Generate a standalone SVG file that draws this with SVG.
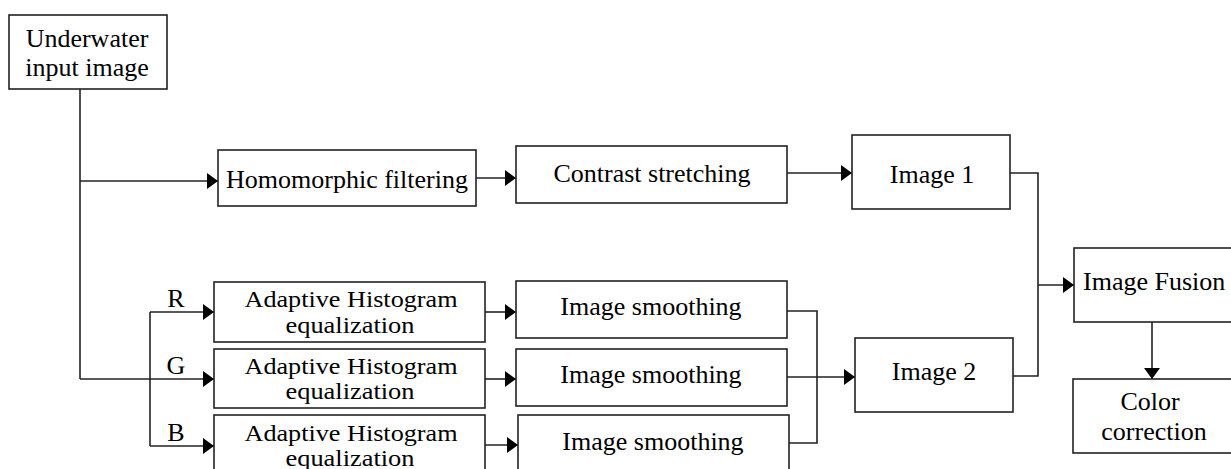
<svg xmlns="http://www.w3.org/2000/svg" width="1231" height="469" viewBox="0 0 1231 469">
<style>
.box{fill:#fff;stroke:#222;stroke-width:1.6}
.ln{fill:none;stroke:#222;stroke-width:1.6}
text{font-family:"Liberation Serif","Times New Roman",serif;font-size:26px;fill:#000;text-anchor:middle}
text.sm{font-size:24px}
</style>
<defs>
<marker id="ah" viewBox="0 0 11 16" refX="11" refY="8" markerWidth="11" markerHeight="16" markerUnits="userSpaceOnUse" orient="auto">
<path d="M0,0 L11,8 L0,16 Z" fill="#000"/>
</marker>
</defs>
<rect width="1231" height="469" fill="#fff"/>
<g id="connectors">
<path class="ln" d="M80,89 V379"/>
<path class="ln" d="M80,181 H218" marker-end="url(#ah)"/>
<path class="ln" d="M476,178 H516" marker-end="url(#ah)"/>
<path class="ln" d="M787,173 H852" marker-end="url(#ah)"/>
<path class="ln" d="M1010,173 H1038 V376 H1013"/>
<path class="ln" d="M1038,285 H1074" marker-end="url(#ah)"/>
<path class="ln" d="M1152,322 V379" marker-end="url(#ah)"/>
<path class="ln" d="M80,379 H214" marker-end="url(#ah)"/>
<path class="ln" d="M150,446 V312"/>
<path class="ln" d="M150,312 H214" marker-end="url(#ah)"/>
<path class="ln" d="M150,446 H214" marker-end="url(#ah)"/>
<path class="ln" d="M485,312 H516" marker-end="url(#ah)"/>
<path class="ln" d="M485,379 H516" marker-end="url(#ah)"/>
<path class="ln" d="M485,445 H518" marker-end="url(#ah)"/>
<path class="ln" d="M787,311 H817 V443 H789"/>
<path class="ln" d="M787,377 H855" marker-end="url(#ah)"/>
</g>
<g id="labels">
<text x="176" y="307">R</text>
<text x="176" y="374">G</text>
<text x="176" y="441">B</text>
</g>
<g id="input"><rect class="box" x="9" y="15" width="158" height="74"/><text x="87" y="47">Underwater</text><text x="87" y="76">input image</text></g>
<g id="homomorphic"><rect class="box" x="218" y="150" width="258" height="56"/><text x="347" y="188">Homomorphic filtering</text></g>
<g id="contrast"><rect class="box" x="516" y="146" width="271" height="57"/><text x="652" y="182">Contrast stretching</text></g>
<g id="image1"><rect class="box" x="852" y="135" width="158" height="74"/><text x="932" y="183">Image 1</text></g>
<g id="ahe-r"><rect class="box" x="214" y="282" width="271" height="60"/><text class="sm" x="351" y="307" textLength="213" lengthAdjust="spacingAndGlyphs">Adaptive Histogram</text><text class="sm" x="350" y="333" textLength="129" lengthAdjust="spacingAndGlyphs">equalization</text></g>
<g id="ahe-g"><rect class="box" x="214" y="349" width="271" height="59"/><text class="sm" x="351" y="374" textLength="213" lengthAdjust="spacingAndGlyphs">Adaptive Histogram</text><text class="sm" x="350" y="399" textLength="129" lengthAdjust="spacingAndGlyphs">equalization</text></g>
<g id="ahe-b"><rect class="box" x="214" y="415" width="271" height="60"/><text class="sm" x="351" y="441" textLength="213" lengthAdjust="spacingAndGlyphs">Adaptive Histogram</text><text class="sm" x="350" y="466" textLength="129" lengthAdjust="spacingAndGlyphs">equalization</text></g>
<g id="smooth-r"><rect class="box" x="516" y="281" width="271" height="57"/><text x="651" y="315">Image smoothing</text></g>
<g id="smooth-g"><rect class="box" x="516" y="349" width="271" height="57"/><text x="651" y="383">Image smoothing</text></g>
<g id="smooth-b"><rect class="box" x="518" y="415" width="271" height="60"/><text x="653" y="450">Image smoothing</text></g>
<g id="image2"><rect class="box" x="855" y="338" width="158" height="74"/><text x="934" y="380">Image 2</text></g>
<g id="fusion"><rect class="box" x="1074" y="248" width="170" height="74"/><text x="1083" y="290" style="text-anchor:start">Image Fusion</text></g>
<g id="color"><rect class="box" x="1073" y="379" width="170" height="74"/><text x="1150" y="410">Color</text><text x="1154" y="440">correction</text></g>
</svg>
